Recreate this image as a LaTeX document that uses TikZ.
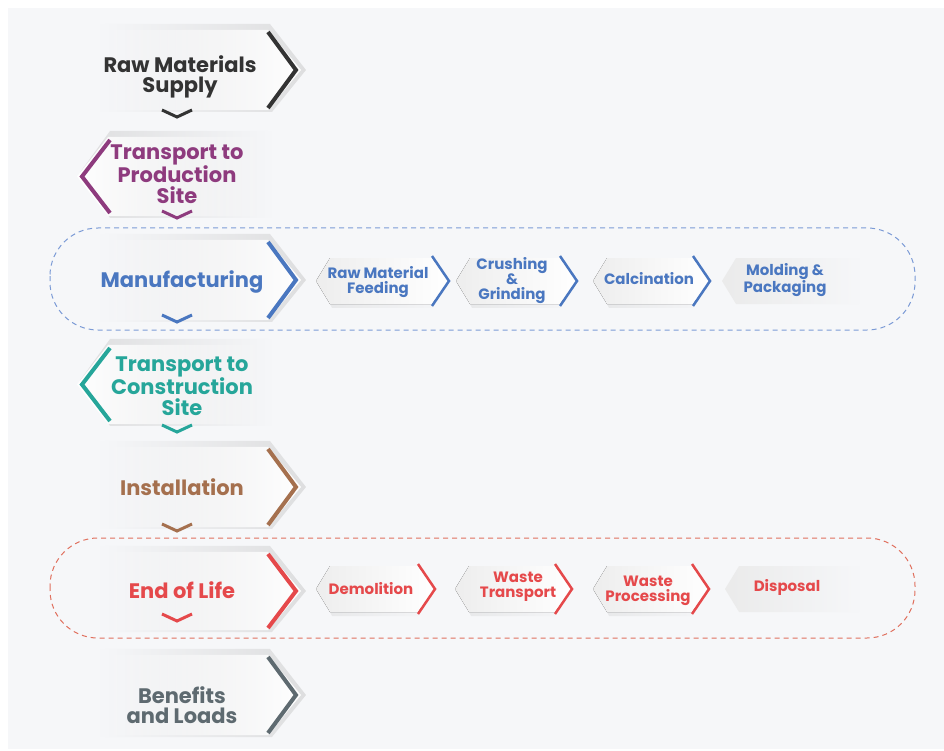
\documentclass[tikz,border=0pt]{standalone}
\usepackage{fontspec}
\setmainfont{Poppins}
\usetikzlibrary{fadings}
\definecolor{bgc}{HTML}{F6F7F9}
\definecolor{cdark}{HTML}{333333}
\definecolor{cpurple}{HTML}{8E3B7E}
\definecolor{cblue}{HTML}{4A77C0}
\definecolor{cteal}{HTML}{26A69A}
\definecolor{cbrown}{HTML}{A5704E}
\definecolor{cred}{HTML}{E5494B}
\definecolor{cslate}{HTML}{5E6A70}
\definecolor{dblue}{HTML}{7C9BD6}
\definecolor{dred}{HTML}{E0705E}
\tikzfading[name=fadeL, left color=transparent!100, middle color=transparent!0, right color=transparent!0]
\tikzfading[name=fadeR, left color=transparent!0, middle color=transparent!0, right color=transparent!100]
\tikzset{
  shadowL/.style={fill=gray!45, path fading=fadeL, opacity=0.5},
  shadowR/.style={fill=gray!45, path fading=fadeR, opacity=0.5},
  boxfill/.style={fill=white, path fading=fadeL},
  lboxfill/.style={fill=white, path fading=fadeR},
  subshadow/.style={fill=gray!40, opacity=0.35, path fading=fadeR},
  subfill/.style={left color=gray!14, right color=white},
  lastfill/.style={fill=gray!16, path fading=east},
  maintext/.style={align=center, font=\bfseries\fontsize{21}{20.5}\selectfont, inner sep=0pt},
  subtext/.style={align=center, font=\bfseries\fontsize{15}{15}\selectfont, inner sep=0pt},
  dashbox/.style={line width=1pt, rounded corners=48pt, dash pattern=on 5pt off 4pt},
}
\newcommand{\mainR}[3]{%
  \pgfmathsetmacro\mc{(#1+#2)/2}
  \fill[shadowL] (100,#1-6) -- (270,#1-6) -- (306,\mc) -- (272,#2+2) -- (100,#2+2) -- cycle;
  \fill[boxfill] (95,#1) -- (268,#1) -- (301,\mc) -- (268,#2) -- (95,#2) -- cycle;
  \draw[#3, line width=4pt] (268,#1+2) -- (296,\mc) -- (268,#2-2);
}
\newcommand{\mainL}[3]{%
  \pgfmathsetmacro\mc{(#1+#2)/2}
  \fill[shadowR] (80,\mc-4) -- (110,#1-6) -- (272,#1-6) -- (272,#2+2) -- (110,#2+2) -- cycle;
  \fill[lboxfill] (77,\mc) -- (108,#1) -- (270,#1) -- (270,#2) -- (108,#2) -- cycle;
  \draw[#3, line width=4pt] (110,#1+3) -- (82,\mc) -- (110,#2-3);
}
\newcommand{\downv}[2]{\draw[#2, line width=3pt] (162,#1) -- (177,#1+7) -- (192,#1);}
\newcommand{\subR}[4]{%
  \fill[subshadow] (#1+4,#3+3) -- (#1+16,#3-20) -- (#2,#3-20) -- (#2+17,#3+3) -- (#2,#3+27) -- (#1+16,#3+27) -- cycle;
  \fill[subfill] (#1,#3) -- (#1+14,#3-23) -- (#2,#3-23) -- (#2+17,#3) -- (#2,#3+23) -- (#1+14,#3+23) -- cycle;
  \draw[#4, line width=2.5pt] (#2,#3-25) -- (#2+17,#3) -- (#2,#3+25);
}
\newcommand{\subLast}[3]{%
  \fill[lastfill] (#1,#3) -- (#1+14,#3-23) -- (#2,#3-23) -- (#2,#3+23) -- (#1+14,#3+23) -- cycle;
}
\begin{document}
\begin{tikzpicture}[x=1pt,y=-1pt]
\useasboundingbox (0,0) rectangle (944,751);
\fill[white] (0,0) rectangle (944,751);
\fill[bgc] (8,8) rectangle (944,749);

% dashed groups
\draw[dashbox, dblue] (50,228) rectangle (915,330);
\draw[dashbox, dred] (50,538) rectangle (915,638);

% main column
\mainR{30}{110}{cdark}
\node[maintext, text=cdark] (raw) at (180,77) {Raw Materials\\Supply};
\downv{110}{cdark}

\mainL{137}{216}{cpurple}
\node[maintext, text=cpurple] (tps) at (177,174) {Transport to\\Production\\Site};
\downv{211}{cpurple}

\mainR{240}{320}{cblue}
\node[maintext, text=cblue] (man) at (182,282) {Manufacturing};
\downv{315}{cblue}

\mainL{345}{424}{cteal}
\node[maintext, text=cteal] (tcs) at (182,386) {Transport to\\Construction\\Site};
\downv{425}{cteal}

\mainR{447}{527}{cbrown}
\node[maintext, text=cbrown] (ins) at (182,487) {Installation};
\downv{524}{cbrown}

\mainR{552}{630}{cred}
\node[maintext, text=cred] (eol) at (182,590) {End of Life};
\downv{614}{cred}

\mainR{655}{735}{cslate}
\node[maintext, text=cslate] (ben) at (182,705) {Benefits\\and Loads};

% manufacturing sub-steps
\subR{316}{432}{281}{cblue}
\node[subtext, text=cblue] (rmf) at (378,282) {Raw Material\\Feeding};
\subR{456}{560}{281}{cblue}
\node[subtext, text=cblue] (cg) at (512,281) {Crushing\\\&\\Grinding};
\subR{593}{693}{281}{cblue}
\node[subtext, text=cblue] (cal) at (649,279) {Calcination};
\subLast{722}{860}{281}
\node[subtext, text=cblue] (mp) at (785,280) {Molding \&\\Packaging};

% end of life sub-steps
\subR{316}{418}{589}{cred}
\node[subtext, text=cred] (dem) at (371,589) {Demolition};
\subR{455}{555}{589}{cred}
\node[subtext, text=cred] (wt) at (518,587) {Waste\\Transport};
\subR{593}{692}{589}{cred}
\node[subtext, text=cred] (wp) at (648,591) {Waste\\Processing};
\subLast{725}{860}{589}
\node[subtext, text=cred] (dis) at (787,587) {Disposal};
\end{tikzpicture}
\end{document}
